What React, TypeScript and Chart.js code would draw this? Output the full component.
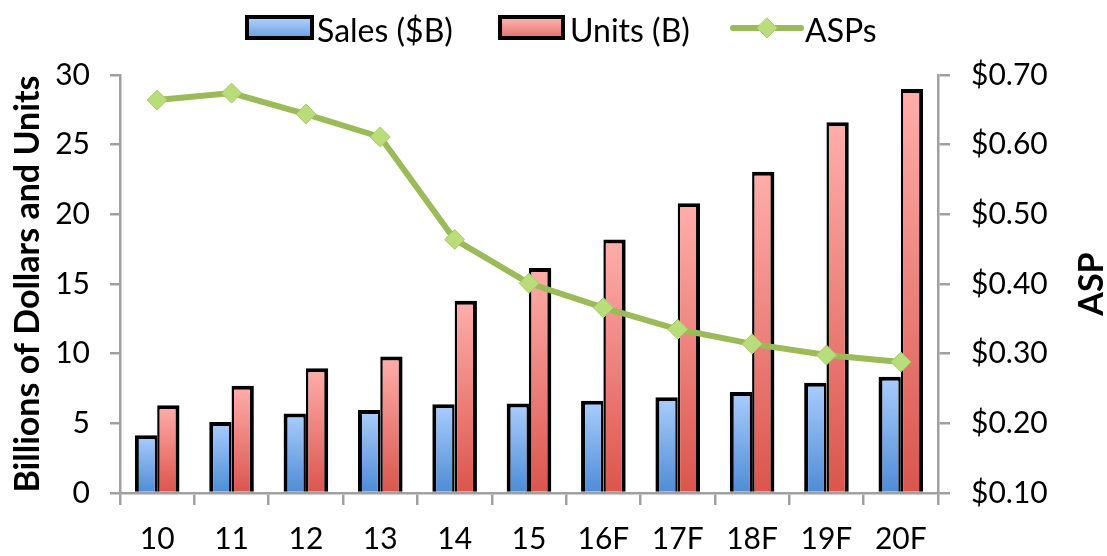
import React, { useEffect, useRef } from 'react';
import { Chart, registerables } from 'chart.js';

Chart.register(...registerables);

const categories = ['10', '11', '12', '13', '14', '15', '16F', '17F', '18F', '19F', '20F'];
const salesB = [4.15, 5.1, 5.7, 5.95, 6.37, 6.42, 6.62, 6.87, 7.25, 7.92, 8.35];
const unitsB = [6.3, 7.7, 8.95, 9.8, 13.8, 16.15, 18.2, 20.8, 23.05, 26.6, 29.0];
const asps = [0.664, 0.674, 0.644, 0.611, 0.464, 0.401, 0.366, 0.335, 0.314, 0.298, 0.288];

const leftAxis = { min: 0, max: 30, step: 5 };
const rightAxis = { min: 0.1, max: 0.7, step: 0.1 };
const seriesNames = ['Sales ($B)', 'Units (B)', 'ASPs'];
const leftTitle = 'Billions of Dollars and Units';
const rightTitle = 'ASP';

const FONT = 'Lato';
const BLUE_TOP = '#abcdfd';
const BLUE_BOT = '#4d8cd6';
const RED_TOP = '#ffaeab';
const RED_BOT = '#da554c';
const GREEN = '#9bbb59';
const AXIS_GREY = '#a0a0a0';

function barGradient(top: string, bottom: string) {
  return (ctx: any) => {
    const chart = ctx.chart;
    const area = chart.chartArea;
    const yScale = chart.scales && chart.scales.y;
    if (!area || !yScale || ctx.type !== 'data') return bottom;
    const yTop = yScale.getPixelForValue(ctx.raw);
    const yBot = yScale.getPixelForValue(0);
    if (!isFinite(yTop) || !isFinite(yBot) || Math.abs(yBot - yTop) < 1) return bottom;
    const g = chart.ctx.createLinearGradient(0, yTop, 0, yBot);
    g.addColorStop(0, top);
    g.addColorStop(1, bottom);
    return g;
  };
}

const overlayPlugin = {
  id: 'overlay',
  afterDraw(chart: any) {
    const c = chart.ctx;
    const area = chart.chartArea;
    c.save();
    const boxY = 17;
    const boxH = 21;
    const drawBox = (x: number, w: number, top: string, bottom: string) => {
      const g = c.createLinearGradient(0, boxY, 0, boxY + boxH);
      g.addColorStop(0, top);
      g.addColorStop(1, bottom);
      c.fillStyle = g;
      c.fillRect(x, boxY, w, boxH);
      c.lineWidth = 4;
      c.strokeStyle = '#000';
      c.strokeRect(x, boxY, w, boxH);
    };
    c.font = `32px ${FONT}`;
    c.textBaseline = 'alphabetic';
    c.textAlign = 'left';
    drawBox(247, 65, '#b3d3fd', '#6a9fe0');
    c.fillStyle = '#000';
    c.fillText(seriesNames[0], 317, 42);
    drawBox(500, 63, '#ffb6b3', '#e2726b');
    c.fillStyle = '#000';
    c.fillText(seriesNames[1], 570, 42);
    c.strokeStyle = GREEN;
    c.lineWidth = 6;
    c.lineCap = 'round';
    c.beginPath();
    c.moveTo(733, 28);
    c.lineTo(801, 28);
    c.stroke();
    c.fillStyle = '#b8dd7a';
    c.beginPath();
    c.moveTo(767, 18);
    c.lineTo(777, 28);
    c.lineTo(767, 38);
    c.lineTo(757, 28);
    c.closePath();
    c.fill();
    c.lineWidth = 1;
    c.strokeStyle = '#a9cc6a';
    c.stroke();
    c.fillStyle = '#000';
    c.fillText(seriesNames[2], 805, 42);

    c.font = `bold 34px ${FONT}`;
    c.translate(1092, (area.top + area.bottom) / 2);
    c.rotate(-Math.PI / 2);
    c.textAlign = 'center';
    c.textBaseline = 'middle';
    c.fillText(rightTitle, 0, 0);
    c.restore();
  },
};

export default function App() {
  const ref = useRef<HTMLCanvasElement | null>(null);

  useEffect(() => {
    if (!ref.current) return;
    const chart = new Chart(ref.current, {
      type: 'bar',
      data: {
        labels: categories,
        datasets: [
          {
            type: 'line',
            label: seriesNames[2],
            data: asps,
            yAxisID: 'y1',
            borderColor: GREEN,
            borderWidth: 6,
            pointStyle: 'rectRot',
            pointRadius: 10,
            pointBackgroundColor: '#b8dd7a',
            pointBorderColor: '#a9cc6a',
            pointBorderWidth: 1,
            tension: 0,
            order: 0,
          } as any,
          {
            label: seriesNames[0],
            data: salesB,
            yAxisID: 'y',
            backgroundColor: barGradient(BLUE_TOP, BLUE_BOT),
            borderColor: '#000',
            borderWidth: { left: 4, top: 4, right: 2.5, bottom: 0 },
            borderSkipped: false,
            categoryPercentage: 0.6,
            barPercentage: 1.0,
            order: 1,
          },
          {
            label: seriesNames[1],
            data: unitsB,
            yAxisID: 'y',
            backgroundColor: barGradient(RED_TOP, RED_BOT),
            borderColor: '#000',
            borderWidth: { left: 2.5, top: 4, right: 4, bottom: 0 },
            borderSkipped: false,
            categoryPercentage: 0.6,
            barPercentage: 1.0,
            order: 1,
          },
        ],
      },
      options: {
        responsive: false,
        animation: false,
        layout: { padding: { top: 75, left: 0, right: 0, bottom: 0 } },
        plugins: {
          legend: { display: false },
          tooltip: { enabled: false },
          title: { display: false },
        },
        scales: {
          x: {
            offset: true,
            grid: {
              display: true,
              offset: true,
              drawOnChartArea: false,
              drawTicks: true,
              tickLength: 12,
              color: AXIS_GREY,
              lineWidth: 2.5,
            },
            border: { display: true, color: AXIS_GREY, width: 2.5 },
            ticks: {
              color: '#000',
              font: { family: FONT, size: 30 },
              padding: 16,
              maxRotation: 0,
              autoSkip: false,
            },
            afterFit: (s: any) => { s.height = 63; },
          },
          y: {
            position: 'left',
            min: leftAxis.min,
            max: leftAxis.max,
            grid: {
              drawOnChartArea: false,
              drawTicks: true,
              tickLength: 10,
              color: AXIS_GREY,
              lineWidth: 2.5,
            },
            border: { display: true, color: AXIS_GREY, width: 2.5 },
            ticks: {
              stepSize: leftAxis.step,
              color: '#000',
              font: { family: FONT, size: 30 },
              padding: 20,
            },
            title: {
              display: true,
              text: leftTitle,
              color: '#000',
              font: { family: FONT, size: 34, weight: 'bold' },
              padding: { top: 8, bottom: 0 },
            },
            afterFit: (s: any) => { s.width = 120; },
          },
          y1: {
            position: 'right',
            min: rightAxis.min,
            max: rightAxis.max,
            grid: {
              drawOnChartArea: false,
              drawTicks: true,
              tickLength: 12,
              color: AXIS_GREY,
              lineWidth: 2.5,
            },
            border: { display: true, color: AXIS_GREY, width: 2.5 },
            ticks: {
              stepSize: rightAxis.step,
              color: '#000',
              font: { family: FONT, size: 30 },
              padding: 21,
              callback: (v: any) => '$' + Number(v).toFixed(2),
            },
            afterFit: (s: any) => { s.width = 169; },
          },
        },
      } as any,
      plugins: [overlayPlugin],
    });
    return () => chart.destroy();
  }, []);

  return (
    <div style={{ position: 'absolute', left: 0, top: 0, width: 1107, height: 556, background: '#fff' }}>
      <canvas ref={ref} width={1107} height={556} style={{ display: 'block' }} />
    </div>
  );
}
